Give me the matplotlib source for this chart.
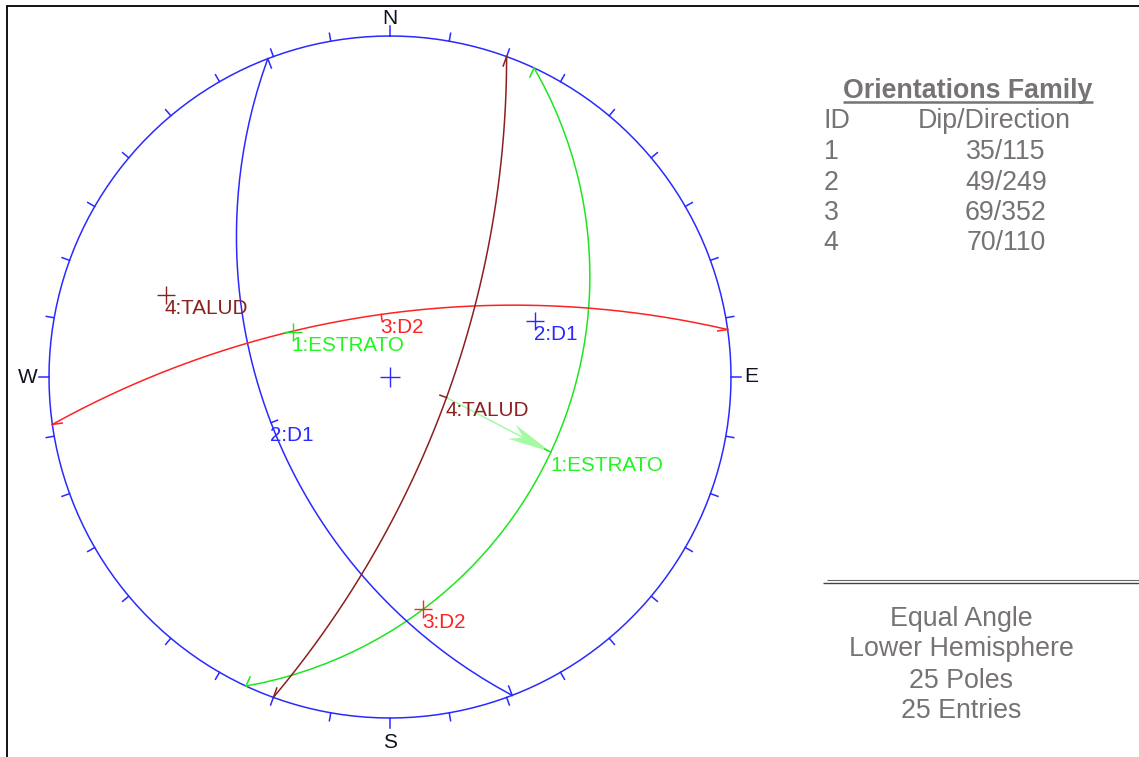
import numpy as np
import matplotlib
matplotlib.use("Agg")
import matplotlib.pyplot as plt
from matplotlib.lines import Line2D
from matplotlib.patches import Polygon

plt.rcParams['font.family'] = ['Liberation Sans', 'DejaVu Sans']

# ---- data ----
plane_ids = [1, 2, 3, 4]
plane_names = ["ESTRATO", "D1", "D2", "TALUD"]
dips = [35, 49, 69, 70]
dip_directions = [115, 249, 352, 110]
plane_colors = ["#1ee61e", "#2a2aff", "#ff2222", "#8c1f1f"]
compass_labels = ["N", "E", "S", "W"]
compass_azimuths = [0, 90, 180, 270]
compass_gaps = [18, 20, 24, 21]
summary_lines = ["Equal Angle", "Lower Hemisphere", "25 Poles", "25 Entries"]
header_id = "ID"
header_orient = "Dip/Direction"
panel_title = "Orientations Family"
arrow_from_plane = 3   # index of TALUD
arrow_to_plane = 0     # index of ESTRATO

W, H = 1139, 757
CX, CY, R = 390.0, 377.0, 341.0
BLUE = "#2a2aff"
GREY = "#777373"
LW = 1.1


def project(trend_deg, plunge_deg):
    """Equal-angle, lower-hemisphere projection to unit-net coordinates."""
    t, p = np.radians(trend_deg), np.radians(plunge_deg)
    r = np.tan((np.pi / 2 - p) / 2)
    return r * np.sin(t), r * np.cos(t)


def great_circle(dip, ddir, step=3.0):
    d, a = np.radians(dip), np.radians(ddir)
    strike = np.array([np.sin(a - np.pi / 2), np.cos(a - np.pi / 2), 0.0])
    down = np.array([np.sin(a) * np.cos(d), np.cos(a) * np.cos(d), np.sin(d)])
    th = np.radians(np.arange(0, 180 + step, step))
    v = np.outer(np.cos(th), strike) + np.outer(np.sin(th), down)
    trend = np.degrees(np.arctan2(v[:, 0], v[:, 1]))
    plunge = np.degrees(np.arcsin(np.clip(v[:, 2], -1, 1)))
    return project(trend, plunge)


def radial(az):
    a = np.radians(az)
    return np.sin(a), np.cos(a)


fig = plt.figure(figsize=(W / 100, H / 100), dpi=100, facecolor="white")
ax = fig.add_axes([0, 0, 1, 1])
ax.set_xlim(-CX / R, (W - CX) / R)
ax.set_ylim((CY - H) / R, CY / R)
ax.axis("off")


def fig_line(xs, ys, color, lw):
    fig.add_artist(Line2D([x / W for x in xs], [1 - y / H for y in ys],
                          color=color, lw=lw, transform=fig.transFigure,
                          solid_capstyle="butt", solid_joinstyle="miter"))


def fig_text(x, y, s, ha="left", **kw):
    fig.text(x / W, 1 - y / H, s, ha=ha, va="center_baseline", **kw)


# frame
fig_line([7, 7, W], [H, 5.5, 5.5], "black", 1.3)

# primitive circle and ticks
t = np.radians(np.arange(0, 361, 2))
ax.plot(np.sin(t), np.cos(t), color=BLUE, lw=LW, zorder=2)
for az in range(0, 360, 10):
    sx, sy = radial(az)
    ln = 10 if az % 90 == 0 else 8
    ax.plot([sx, sx * (1 + ln / R)], [sy, sy * (1 + ln / R)], color=BLUE, lw=LW, zorder=2)

# centre cross
ax.plot([0], [0], marker="+", ms=14.5, mew=1.0, color=BLUE, ls="none", zorder=4)

# compass letters
for lab, az, gap in zip(compass_labels, compass_azimuths, compass_gaps):
    sx, sy = radial(az)
    off = 1 + gap / R
    ax.text(sx * off, sy * off, lab, ha="center", va="center", fontsize=15,
            color="#111122")

# planes
mids = []
for pid, name, dip, ddir, col in zip(plane_ids, plane_names, dips, dip_directions, plane_colors):
    x, y = great_circle(dip, ddir)
    ax.plot(x, y, color=col, lw=LW, zorder=3)
    # inward ticks at both strike ends
    for az in (ddir - 90, ddir + 90):
        sx, sy = radial(az)
        ax.plot([sx, sx * (1 - 10 / R)], [sy, sy * (1 - 10 / R)], color=col, lw=LW, zorder=3)
    # midpoint: tick towards centre + label
    mx, my = project(ddir, dip)
    mids.append((mx, my))
    mr = np.hypot(mx, my)
    ax.plot([mx, mx * (1 - 7 / R / mr)], [my, my * (1 - 7 / R / mr)], color=col, lw=LW, zorder=3)
    label = f"{pid}:{name}"
    text_col = col if col != plane_colors[0] else "#22f522"
    ax.annotate(label, (mx, my), xytext=(-0.5, -8.1), textcoords="offset points",
                color=text_col, fontsize=14.9, ha="left", va="center_baseline", zorder=6)
    # pole
    px, py = project(ddir + 180, 90 - dip)
    ax.plot([px], [py], marker="+", ms=12.5, mew=1.0, color=col, ls="none", zorder=5)
    ax.annotate(label, (px, py), xytext=(-0.5, -8.3), textcoords="offset points",
                color=text_col, fontsize=14.9, ha="left", va="center_baseline", zorder=6)

# arrow from TALUD midpoint to ESTRATO midpoint
a0 = np.array(mids[arrow_from_plane])
a1 = np.array(mids[arrow_to_plane])
u = (a1 - a0) / np.linalg.norm(a1 - a0)
n = np.array([-u[1], u[0]])
ARROW = "#a4fba4"
ax.plot([a0[0], (a1 - u * 30 / R)[0]], [a0[1], (a1 - u * 30 / R)[1]], color=ARROW, lw=LW, zorder=2.5)
head = [a1,
        a1 - u * 44 / R + n * 8 / R,
        a1 - u * 31 / R,
        a1 - u * 44 / R - n * 8 / R]
ax.add_patch(Polygon(head, closed=True, facecolor=ARROW, edgecolor="none", zorder=2.5))

# right panel
fig_text(968, 87.5, panel_title, ha="center", fontsize=19.3, fontweight="bold", color=GREY)
fig_line([843, 1093], [101.5, 101.5], GREY, 1.8)
fig_text(823.5, 118.5, header_id, fontsize=19.3, color=GREY)
fig_text(994.5, 118.5, header_orient, ha="center", fontsize=19.3, color=GREY)
row_y = [149, 179.5, 210.5, 240.5]
for pid, dip, ddir, y in zip(plane_ids, dips, dip_directions, row_y):
    fig_text(823.5, y, str(pid), fontsize=19.3, color=GREY)
    fig_text(1006, y, f"{dip}/{ddir}", ha="center", fontsize=19.3, color=GREY)

# double rule
fig_line([827, W], [580, 580], "#666666", 0.8)
fig_line([823, W], [583, 583], "#444444", 1.0)

# summary
sum_y = [616, 646.5, 677.5, 707.5]
for s, y in zip(summary_lines, sum_y):
    fig_text(961, y, s, ha="center", fontsize=19.3, color=GREY)

fig.savefig("out.png", dpi=100, facecolor="white")
